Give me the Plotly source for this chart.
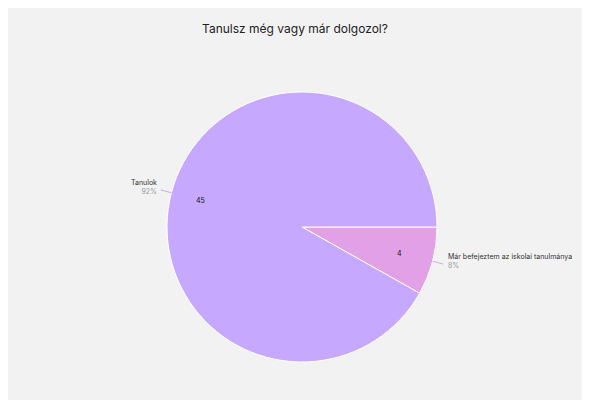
import math

import plotly.graph_objects as go

# data (order as drawn: clockwise from 3 o'clock)
labels = ['Már befejeztem az iskolai tanulmánya', 'Tanulok']
values = [4, 45]
colours = ['#e2a1e6', '#c6a9ff']
title = 'Tanulsz még vagy már dolgozol?'

# figure size (page adds 8px body margin)
W, H = 574, 392

# pie geometry in figure pixels
cx, cy, R = 294, 219, 135


def to_paper(x, y):
    return x / W, (H - y) / H


total = sum(values)
fig = go.Figure()

x0, y1 = to_paper(cx - R, cy - R)
x1, y0 = to_paper(cx + R, cy + R)
fig.add_trace(
    go.Pie(
        labels=labels,
        values=values,
        sort=False,
        direction='clockwise',
        rotation=90,
        marker=dict(colors=colours, line=dict(color='white', width=1)),
        textinfo='none',
        hoverinfo='label+value+percent',
        showlegend=False,
        domain=dict(x=[x0, x1], y=[y0, y1]),
    )
)

# labels, values and leader lines
font = 'Inter, Lato, sans-serif'
cum = 0
for lab, val, col in zip(labels, values, colours):
    mid = -math.radians((cum + val / 2) / total * 360)
    cum += val
    dx, dy = math.cos(mid), -math.sin(mid)

    # value inside the slice
    vx, vy = to_paper(cx + 0.78 * R * dx, cy + 0.78 * R * dy)
    fig.add_annotation(
        text=str(val), x=vx, y=vy, xref='paper', yref='paper',
        showarrow=False, font=dict(family=font, size=7, color='#111'),
    )

    # leader line
    ax, ay = to_paper(cx + R * dx, cy + R * dy)
    bx, by = to_paper(cx + (R + 11) * dx, cy + (R + 11) * dy)
    fig.add_shape(
        type='line', x0=ax, y0=ay, x1=bx, y1=by, xref='paper', yref='paper',
        line=dict(color=col, width=1),
    )

    # outside label
    left = dx < 0
    tx, ty = to_paper(cx + (R + 11) * dx + (-2 if left else 3), cy + (R + 11) * dy - 3)
    pct = round(val / total * 100)
    fig.add_annotation(
        text=f"{lab}<br><span style='color:#9a9a9a'>{pct}%</span>",
        x=tx, y=ty, xref='paper', yref='paper',
        xanchor='right' if left else 'left', yanchor='middle',
        align='right' if left else 'left',
        showarrow=False, font=dict(family=font, size=7, color='#333'),
    )

fig.update_layout(
    width=W,
    height=H,
    margin=dict(l=0, r=0, t=0, b=0),
    paper_bgcolor='#f2f2f2',
    title=dict(
        text=title, x=0.5, xanchor='center', y=1 - 21 / H, yanchor='middle',
        font=dict(family=font, size=12, color='#222'),
    ),
)

fig.write_html('out.html')
